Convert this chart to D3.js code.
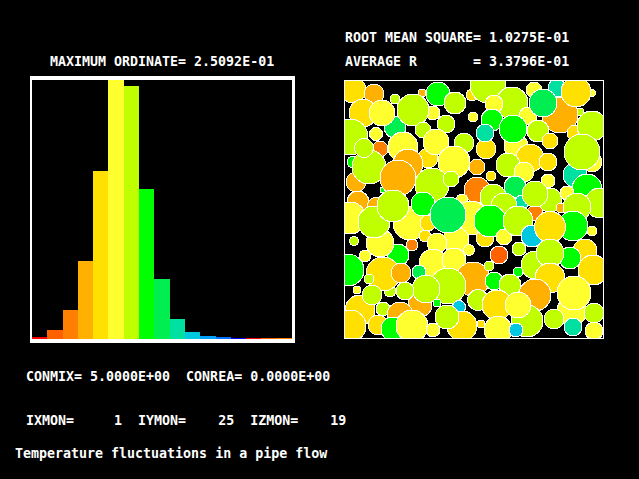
<!DOCTYPE html>
<html><head><meta charset="utf-8">
<script src="https://cdnjs.cloudflare.com/ajax/libs/d3/7.8.5/d3.min.js"></script>
<style>
html,body{margin:0;padding:0;background:#000;overflow:hidden}
svg{display:block}
text{font-family:"DejaVu Sans Mono",monospace;font-size:13.3px;font-weight:bold;fill:#fff;white-space:pre}
</style></head><body>
<script>
const palette = ["#ff0000","#ff6000","#ff8000","#ffb000","#ffe000","#ffff30","#c0ff00","#00ff00","#00ee50","#00e0a0","#00c8e0","#00a0ff","#0070ff","#0000ff","#ff0000","#ff6000","#ff8000"];
const histogram = [0.0019,0.0087,0.0281,0.0756,0.1627,0.2509,0.2451,0.1453,0.0581,0.0194,0.0068,0.0029,0.0019,0.0012,0.0012,0.0010,0.0010];
const maxOrdinate = 0.2509;
const labels = [
 ["MAXIMUM ORDINATE= 2.5092E-01",50,66],
 ["ROOT MEAN SQUARE= 1.0275E-01",345,42],
 ["AVERAGE R       = 3.3796E-01",345,66],
 ["CONMIX= 5.0000E+00  CONREA= 0.0000E+00",26,381],
 ["IXMON=     1  IYMON=    25  IZMON=    19",26,425],
 ["Temperature fluctuations in a pipe flow",15,458]
];
// x, y, radius (panel units), temperature bin
const bubbles = [
[77,12,4,3],[8,9,13,4],[29,13,10,3],[50,18,5,6],[93,13,12,7],[110,22,11,6],[18,32,14,4],[50,46,11,8],[37,32,13,5],[88,32,7,5],[68,29,16,6],[128,36,5,5],
[5,56,18,6],[31,53,6.5,5],[78,49,8,6],[101,43,9,6],[119,62,10,6],[35,68,8,2],[58,66,15,5],[83,77,10,4],[91,61,13,5],[8,81,6,7],[11,101,10,3],[24,86,17,6],
[19,67,9.5,6],[63,83,15,3],[109,81,16,5],[13,121,11,3],[38,109,3,7],[53,97,18,3],[87,104,17,6],[106,98,8,6],
[212,7,9,9],[235,31,4,6],[215,34,18,3],[189,9,8,5],[247,12,3.5,5],[127,14,6,4],[143,4,18,6],[167,22,16,6],[149,23,9,5],[183,35,9,5],[147,39,11,7],
[231,11,15,4],[198,22,14,8],[230,52,8,4],[193,50,11,6],[141,68,10,4],[140,52,9,9],[171,65,12,5],[168,48,14,7],[247,45,15,6],[205,60,8,4],
[247,81,10,5],[185,77,14,4],[203,81,9,4],[163,84,12,6],[179,91,10,5],[230,94,12,9],[237,71,18,6],[132,86,8,3],[146,95,5,4],[203,100,7,5],
[242,108,15,7],[170,106,11,8],[132,109,13,2],[177,121,7,9],[205,119,12,6],[222,112,7,5],[190,132,8,2],[190,113,13,6],[148,116,13,6],[159,125,13,6],[216,127,5,3],[255,122,15,6],[232,126,14,6],
[5,137,16,5],[32,126,10,3],[53,174,11,7],[35,162,14,5],[29,141,16,6],[65,142,17,5],[48,125,16,6],[78,123,12,7],[83,142,8,4],[117,119,6,5],[126,137,17,5],
[80,155,6,4],[9,160,4.5,6],[111,159,13,5],[92,162,10,5],[103,134,18,8],[124,169,5.5,5],[67,164,6,2],
[20,175,6,5],[88,182,14,5],[109,179,12,5],[3,189,16,7],[45,210,6,6],[38,193,17,4],[56,192,10,3],[24,198,5,6],[74,191,7,8],[128,198,17,3],[75,224,12,3],[149,200,9,7],
[103,205,18,6],[81,208,14,6],[60,210,9,6],[12,209,4,5],[15,229,15,4],[27,214,10,6],[38,228,7,6],[55,234,13,3],[92,222,4,7],
[114,226,6.5,10],[117,245,15,4],[102,236,12,6],[5,245,16,4],[33,244,10,4],[48,248,12,7],[67,245,16,5],[88,249,7,5],
[140,157,9,4],[145,140,16,7],[159,156,8,5],[173,140,15,6],[187,155,11,10],[228,145,15,7],[205,146,15.5,4],[247,150,5,5],
[174,168,7,6],[154,174,9,1],[240,170,12,4],[225,177,11,7],[190,184,14,6],[205,172,14,6],[144,185,5,6],[173,191,5,7],[248,189,15,4],[205,197,15,4],
[165,204,11,6],[190,214,16,3],[182,240,16,6],[227,230,15,5],[229,212,17,5],[133,219,10.5,6],[152,224,15,4],[173,224,13,5],
[209,238,10,6],[249,232,10,6],[153,249,14,5],[171,249,7,10],[136,243,4,4],[228,246,9,9],[249,250,9,5]
];

const svg = d3.select("body").append("svg").attr("width",639).attr("height",479);
svg.append("rect").attr("width",639).attr("height",479).attr("fill","#000");

// histogram frame
svg.append("rect").attr("x",30).attr("y",76).attr("width",265).attr("height",267).attr("fill","#fff");
svg.append("rect").attr("x",32).attr("y",80).attr("width",260).attr("height",259).attr("fill","#000");

const xBar = d3.scaleBand().domain(d3.range(histogram.length)).range([32,292]);
const yBar = d3.scaleLinear().domain([0,maxOrdinate]).range([339,80]);
svg.append("g").attr("shape-rendering","crispEdges").selectAll("rect").data(histogram).join("rect")
  .attr("x",(d,i)=>Math.round(xBar(i)))
  .attr("width",(d,i)=>Math.round(xBar(i)+xBar.bandwidth())-Math.round(xBar(i)))
  .attr("y",d=>Math.round(yBar(d)))
  .attr("height",d=>339-Math.round(yBar(d)))
  .attr("fill",(d,i)=>palette[i]);

// bubble panel
const xP = d3.scaleLinear().domain([0,258]).range([345,603]);
const yP = d3.scaleLinear().domain([0,258]).range([81,339]);
const rP = d3.scaleLinear().domain([0,258]).range([0,258]);
svg.append("clipPath").attr("id","panel").append("rect").attr("x",345).attr("y",81).attr("width",258).attr("height",257);
svg.append("g").attr("clip-path","url(#panel)").attr("shape-rendering","crispEdges").selectAll("circle").data(bubbles).join("circle")
  .attr("cx",d=>xP(d[0])).attr("cy",d=>yP(d[1])).attr("r",d=>rP(d[2]))
  .attr("fill",d=>palette[d[3]]).attr("stroke","#fff").attr("stroke-width",1);
svg.append("rect").attr("x",344.5).attr("y",80.5).attr("width",259).attr("height",258)
  .attr("fill","none").attr("stroke","#fff").attr("shape-rendering","crispEdges");

svg.append("g").selectAll("text").data(labels).join("text")
  .attr("x",d=>d[1]).attr("y",d=>d[2]).attr("xml:space","preserve").text(d=>d[0]);
</script>
</body></html>
